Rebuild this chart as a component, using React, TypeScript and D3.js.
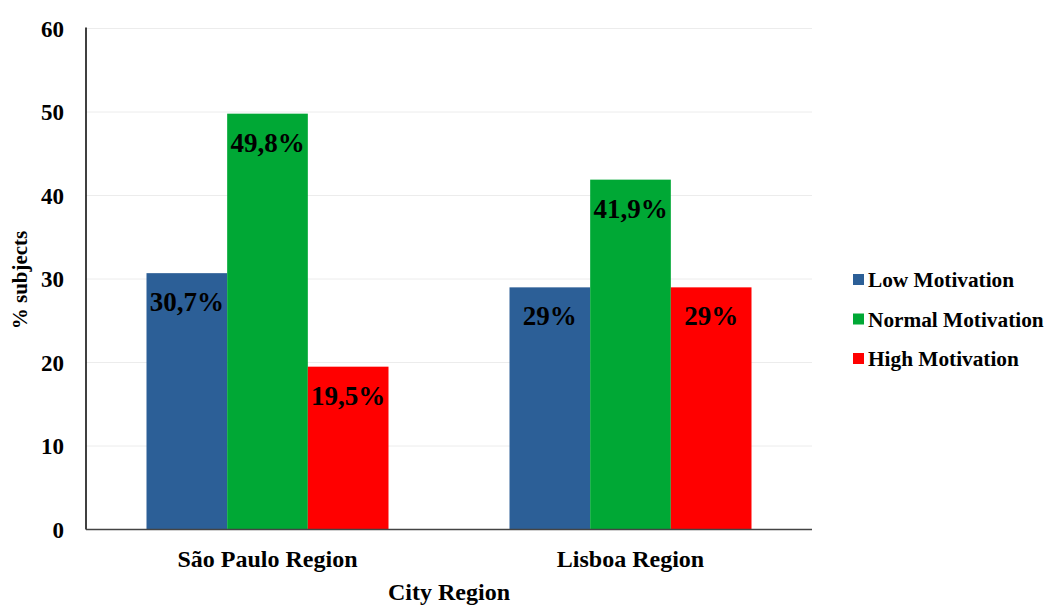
import React from "react";
import * as d3 from "d3";

const regions = ["São Paulo Region", "Lisboa Region"];
const seriesNames = ["Low Motivation", "Normal Motivation", "High Motivation"];
const lowValues = [30.7, 29];
const normalValues = [49.8, 41.9];
const highValues = [19.5, 29];
const valueLabels = [
  ["30,7%", "49,8%", "19,5%"],
  ["29%", "41,9%", "29%"],
];
const yTicks = [0, 10, 20, 30, 40, 50, 60];
const colors = ["#2c5f97", "#00a835", "#ff0000"];

const W = 1047;
const H = 606;
const margin = { left: 86, right: 235, top: 28.5, bottom: 76.5 };
const FONT = "'Liberation Serif', 'Times New Roman', serif";

export default function App() {
  const x0 = d3
    .scaleBand<string>()
    .domain(regions)
    .range([margin.left, W - margin.right])
    .paddingInner(1 / 3)
    .paddingOuter(1 / 6);
  const x1 = d3.scaleBand<string>().domain(seriesNames).range([0, x0.bandwidth()]);
  const y = d3.scaleLinear().domain([0, 60]).range([H - margin.bottom, margin.top]);

  const series = [lowValues, normalValues, highValues];

  return (
    <svg
      width={W}
      height={H}
      style={{ position: "absolute", left: 0, top: 0, background: "#fff" }}
      fontFamily={FONT}
    >
      {/* gridlines */}
      {yTicks.slice(1).map((t) => (
        <line
          key={"g" + t}
          x1={margin.left}
          x2={W - margin.right}
          y1={y(t)}
          y2={y(t)}
          stroke="#ececec"
          strokeWidth={1}
        />
      ))}
      {/* bars */}
      {regions.map((r, ri) =>
        seriesNames.map((s, si) => {
          const v = series[si][ri];
          const bx = (x0(r) ?? 0) + (x1(s) ?? 0);
          return (
            <g key={r + s}>
              <rect
                x={bx}
                y={y(v)}
                width={x1.bandwidth()}
                height={y(0) - y(v)}
                fill={colors[si]}
              />
              <text
                x={bx + x1.bandwidth() / 2}
                y={y(v) + 38}
                textAnchor="middle"
                fontWeight="bold"
                fontSize={27}
                fill="#000"
              >
                {valueLabels[ri][si]}
              </text>
            </g>
          );
        })
      )}
      {/* axes */}
      <line x1={margin.left} x2={margin.left} y1={margin.top - 1} y2={y(0)} stroke="#000" strokeWidth={1.5} />
      <line x1={margin.left} x2={W - margin.right} y1={y(0)} y2={y(0)} stroke="#444" strokeWidth={1.5} />
      {yTicks.map((t) => (
        <text
          key={"t" + t}
          x={64}
          y={y(t)}
          dy="0.35em"
          textAnchor="end"
          fontWeight="bold"
          fontSize={23}
        >
          {t}
        </text>
      ))}
      {regions.map((r) => (
        <text
          key={"c" + r}
          x={(x0(r) ?? 0) + x0.bandwidth() / 2}
          y={567}
          textAnchor="middle"
          fontWeight="bold"
          fontSize={24}
        >
          {r}
        </text>
      ))}
      <text x={449} y={600} textAnchor="middle" fontWeight="bold" fontSize={24}>
        City Region
      </text>
      <text
        transform={`translate(27,${280}) rotate(-90)`}
        textAnchor="middle"
        fontWeight="bold"
        fontSize={21}
      >
        % subjects
      </text>
      {/* legend */}
      {seriesNames.map((s, i) => (
        <g key={"l" + s} transform={`translate(853,${280 + i * 39.5})`}>
          <rect x={0} y={-6} width={11} height={11} fill={colors[i]} />
          <text x={15} y={0} dy="0.35em" fontWeight="bold" fontSize={21.3}>
            {s}
          </text>
        </g>
      ))}
    </svg>
  );
}
